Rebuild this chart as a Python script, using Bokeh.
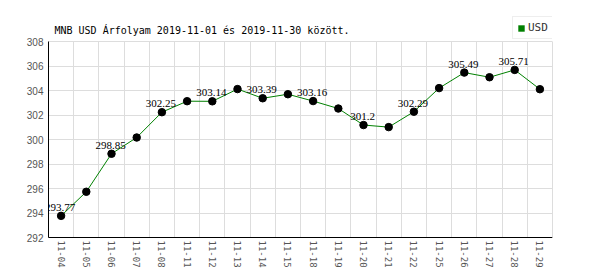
from bokeh.plotting import figure
from bokeh.models import (Range1d, FixedTicker, ColumnDataSource, LabelSet, Label,
                          Legend, LegendItem, Grid, LinearAxis)
from bokeh.embed import file_html
from bokeh.resources import INLINE

dates = ["11-04", "11-05", "11-06", "11-07", "11-08", "11-11", "11-12", "11-13",
         "11-14", "11-15", "11-18", "11-19", "11-20", "11-21", "11-22", "11-25",
         "11-26", "11-27", "11-28", "11-29"]
rates = [293.77, 295.74, 298.85, 300.18, 302.25, 303.15, 303.14, 304.14,
         303.39, 303.72, 303.16, 302.55, 301.20, 301.03, 302.29, 304.22,
         305.49, 305.11, 305.71, 304.13]
y_ticks = [292, 294, 296, 298, 300, 302, 304, 306, 308]
title_text = "MNB USD Árfolyam 2019-11-01 és 2019-11-30 között."
series_name = "USD"

n = len(dates)
xs = [i + 0.5 for i in range(n)]
y0, y1 = y_ticks[0], y_ticks[-1]
head = 2.16  # extra room above the grid for title/legend (layout only)

p = figure(width=600, height=270, output_backend="svg", toolbar_location=None,
           x_range=Range1d(0, n), y_range=Range1d(y0, y1 + head),
           min_border_left=48, min_border_right=48, min_border_top=15,
           min_border_bottom=32, background_fill_color="white",
           border_fill_color="white")
p.outline_line_color = None

# grids
p.xgrid.visible = False
p.ygrid.visible = False
vkw = dict(dimension=0, ticker=FixedTicker(ticks=list(range(n + 1))),
           grid_line_color="#dddddd", grid_line_width=1)
if "cross_bounds" in Grid.properties():
    vkw["cross_bounds"] = (y0, y1)
p.add_layout(Grid(**vkw))
p.add_layout(Grid(dimension=1, ticker=FixedTicker(ticks=y_ticks),
                  grid_line_color="#dddddd", grid_line_width=1))

# axes
xa = p.xaxis[0]
xa.ticker = FixedTicker(ticks=xs)
xa.major_label_overrides = {x: d for x, d in zip(xs, dates)}
xa.major_label_orientation = "vertical"
xa.major_label_text_font = "DejaVu Sans Mono"
xa.major_label_text_font_size = "9px"
xa.major_label_text_color = "#555555"
xa.major_label_standoff = 3
xa.major_tick_out = 0
xa.major_tick_in = 0
xa.minor_tick_out = 0
xa.minor_tick_in = 0
xa.axis_line_color = "black"

ya = p.yaxis[0]
ya.ticker = FixedTicker(ticks=y_ticks)
ya.bounds = (y0, y1)
ya.major_label_text_font = "Liberation Sans"
ya.major_label_text_font_size = "10px"
ya.major_label_text_color = "#555555"
ya.major_label_standoff = 5
ya.major_tick_out = 0
ya.major_tick_in = 0
ya.minor_tick_out = 0
ya.minor_tick_in = 0
ya.axis_line_color = "black"

ra = LinearAxis(ticker=FixedTicker(ticks=[]), bounds=(y0, y1),
                axis_line_color="#dddddd", major_tick_out=0, major_tick_in=0,
                minor_tick_out=0, minor_tick_in=0)
p.add_layout(ra, "right")

src = ColumnDataSource(dict(x=xs, y=rates))
p.line("x", "y", source=src, line_color="#008000", line_width=1)
p.scatter("x", "y", source=src, size=7.5, fill_color="black", line_color="black")

# zero-size quads on the data: invisible in the plot, give the legend its swatch
sw = p.quad(left="x", right="x", top="y", bottom="y", source=src,
            fill_color="#008000", line_alpha=0)

lab_idx = list(range(0, n, 2))
lab_src = ColumnDataSource(dict(x=[xs[i] for i in lab_idx],
                                y=[rates[i] for i in lab_idx],
                                t=[f"{rates[i]:g}" for i in lab_idx]))
p.add_layout(LabelSet(x="x", y="y", text="t", source=lab_src,
                      text_font="DejaVu Sans Mono", text_font_size="11px",
                      text_color="black", text_align="center",
                      text_baseline="bottom", y_offset=5, x_offset=-1))

# title as a text annotation at the top of the frame
p.add_layout(Label(x=6, y=207, x_units="screen", y_units="screen",
                   text=title_text, text_font="DejaVu Sans Mono",
                   text_font_size="10px", text_color="black",
                   text_baseline="alphabetic", text_align="left"))

leg = Legend(items=[LegendItem(label=series_name, renderers=[sw])],
             location=(464, 198), orientation="vertical",
             padding=4, spacing=0, margin=0, label_standoff=3,
             glyph_width=8, glyph_height=8, label_height=10,
             label_text_font="DejaVu Sans Mono", label_text_font_size="11px",
             label_text_color="#333333", border_line_color="#dddddd",
             background_fill_color="white", background_fill_alpha=1.0)
p.add_layout(leg, "center")

open("out.html", "w").write(file_html(p, INLINE))
